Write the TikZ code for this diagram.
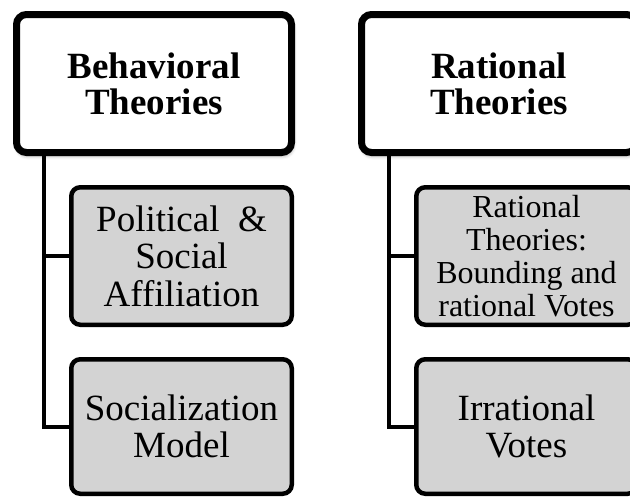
\documentclass[tikz,border=0pt]{standalone}
\usepackage{fontspec}
\setmainfont{Liberation Serif}
\usetikzlibrary{shadows.blur}
\definecolor{boxgray}{RGB}{211,211,211}
\tikzset{
  x=1pt, y=-1pt,
  headbox/.style={draw=black, line width=7pt, fill=white, rounded corners=10pt,
    minimum width=275pt, minimum height=138pt, inner sep=0pt, align=center,
    font=\fontsize{37}{36}\selectfont\bfseries,
    blur shadow={shadow xshift=1pt, shadow yshift=-3pt, shadow blur radius=4pt, shadow opacity=45}},
  subbox/.style={draw=black, line width=4.5pt, fill=boxgray, rounded corners=9pt,
    minimum width=220.5pt, inner sep=0pt, align=center,
    font=\fontsize{37}{37.5}\selectfont},
  conn/.style={draw=black, line width=4pt},
}
\begin{document}
\begin{tikzpicture}
\useasboundingbox (0,0) rectangle (630,496);
\clip (0,0) rectangle (630,496);

% Behavioral column
\node[headbox] (lt) at (154,83.5) {Behavioral\\Theories};
\node[subbox, minimum height=137.5pt] (lc1) at (181.5,256) {Political~~\&\\Social\\Affiliation};
\node[subbox, minimum height=134.5pt] (lc2) at (181.5,426.5) {Socialization\\Model};
\coordinate (trunkL) at (44,0);
\draw[conn] (trunkL |- lt.south) |- (lc2.west);
\draw[conn] (trunkL |- lc1.west) -- (lc1.west);

% Rational column
\node[headbox] (rt) at (499,83.5) {Rational\\Theories};
\node[subbox, minimum height=137.5pt, font=\fontsize{32}{33}\selectfont] (rc1) at (526.5,256) {Rational\\Theories:\\Bounding and\\rational Votes};
\node[subbox, minimum height=134.5pt] (rc2) at (526.5,426.5) {Irrational\\Votes};
\coordinate (trunkR) at (389,0);
\draw[conn] (trunkR |- rt.south) |- (rc2.west);
\draw[conn] (trunkR |- rc1.west) -- (rc1.west);
\end{tikzpicture}
\end{document}
